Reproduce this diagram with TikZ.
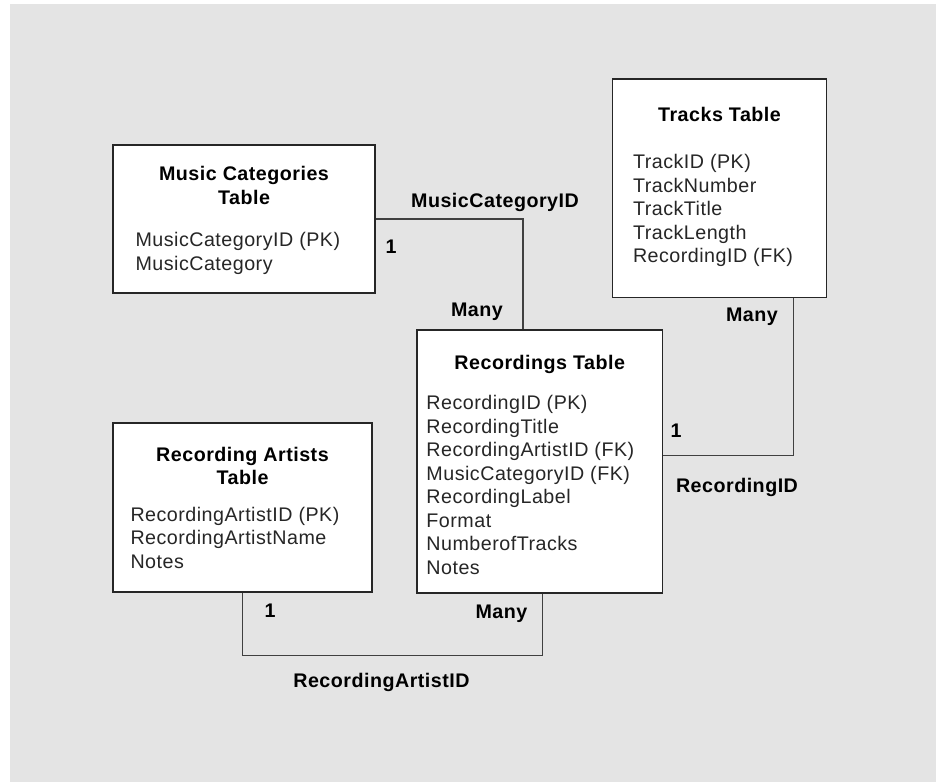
\documentclass[tikz,border=0pt]{standalone}
\usepackage{fontspec}
\setmainfont{Liberation Sans}[LetterSpace=2.5]
\definecolor{bggray}{RGB}{228,228,228}
\tikzset{
    tbl/.style={rectangle, draw=black!85, fill=white, line width=1.1pt, inner sep=0},
    ttl/.style={anchor=north, align=center, inner sep=0, font=\bfseries\fontsize{14}{16.72}\selectfont},
    fld/.style={anchor=north west, align=left, inner sep=0, font=\fontsize{14}{16.72}\selectfont, text=black!85},
    rel/.style={draw=black!75, line width=0.8pt},
    card/.style={anchor=base, inner sep=0, font=\bfseries\fontsize{14}{16.72}\selectfont}
}

\begin{document}
\begin{tikzpicture}
    \fill[white] (0,0) rectangle (23.4,-19.55);
    \fill[bggray] (0.25,-0.1) rectangle (23.4,-19.55);

    % tables
    \draw
    (6.1,-5.475)node[tbl, minimum width=6.55cm, minimum height=3.7cm](mc){}
    (mc.north)node[ttl, yshift=-0.49cm](mct){\strut Music Categories\\Table}
    (mc.north west)node[fld, xshift=0.575cm, yshift=-2.14cm](mcf){\strut MusicCategoryID (PK)\\MusicCategory}
    (17.9875,-4.706)node[tbl, minimum width=5.35cm, minimum height=5.46cm](tr){}
    (tr.north)node[ttl, yshift=-0.66cm](trt){\strut Tracks Table}
    (tr.north west)node[fld, xshift=0.525cm, yshift=-1.84cm](trf){\strut TrackID (PK)\\TrackNumber\\TrackTitle\\TrackLength\\RecordingID (FK)}
    (13.494,-11.5375)node[tbl, minimum width=6.14cm, minimum height=6.575cm](rec){}
    (rec.north)node[ttl, yshift=-0.59cm](rect){\strut Recordings Table}
    (rec.north west)node[fld, xshift=0.25cm, yshift=-1.59cm](recf){\strut RecordingID (PK)\\RecordingTitle\\RecordingArtistID (FK)\\MusicCategoryID (FK)\\RecordingLabel\\Format\\NumberofTracks\\Notes}
    (6.0625,-12.6875)node[tbl, minimum width=6.475cm, minimum height=4.225cm](art){}
    (art.north)node[ttl, yshift=-0.56cm](artt){\strut Recording Artists\\Table}
    (art.north west)node[fld, xshift=0.45cm, yshift=-2.06cm](artf){\strut RecordingArtistID (PK)\\RecordingArtistName\\Notes}
    ;

    % relations
    \draw[rel] (mc.east) -| ([xshift=-0.42cm]rec.north);
    \draw[rel] ([xshift=1.86cm]tr.south) |- ([yshift=0.14cm]rec.east);
    \draw[rel] (art.south) -- ++(0,-1.575) -| ([xshift=0.07cm]rec.south);

    % labels
    \node[card] (mcid) at (12.375,-5.2) {MusicCategoryID};
    \node[card] (mcone) at (9.775,-6.35) {1};
    \node[card] (mcmany) at (11.925,-7.925) {Many};
    \node[card] (trmany) at (18.8,-8.05) {Many};
    \node[card] (trone) at (16.9,-10.95) {1};
    \node[card] (recid) at (18.425,-12.325) {RecordingID};
    \node[card] (artone) at (6.75,-15.425) {1};
    \node[card] (artmany) at (12.5375,-15.45) {Many};
    \node[card] (artid) at (9.5375,-17.175) {RecordingArtistID};
\end{tikzpicture}
\end{document}
